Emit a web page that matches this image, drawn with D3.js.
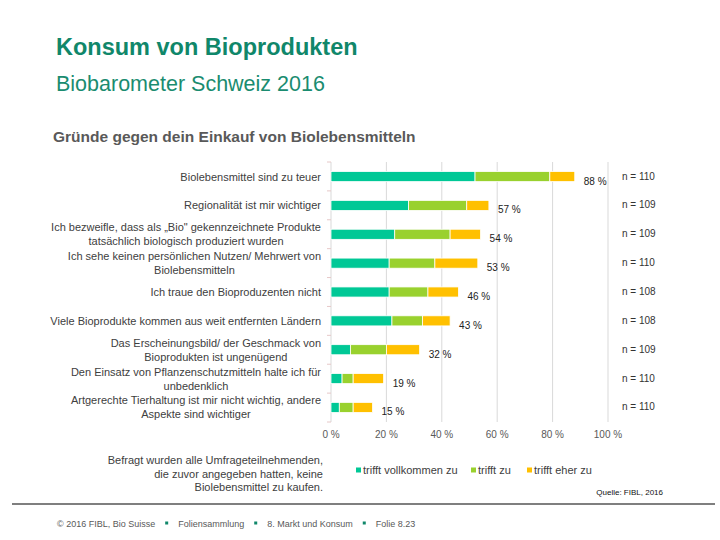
<!DOCTYPE html>
<html>
<head>
<meta charset="utf-8">
<script src="https://cdn.jsdelivr.net/npm/d3@7"></script>
<style>
  body { margin: 0; background: #fff; }
  text { font-family: "Liberation Sans", Arial, sans-serif; }
</style>
</head>
<body>
<div id="vis"></div>
<script>
// ==== DATA ====
const categories = [
  ["Biolebensmittel sind zu teuer"],
  ["Regionalität ist mir wichtiger"],
  ["Ich bezweifle, dass als „Bio\" gekennzeichnete Produkte", "tatsächlich biologisch produziert wurden"],
  ["Ich sehe keinen persönlichen Nutzen/ Mehrwert von", "Biolebensmitteln"],
  ["Ich traue den Bioproduzenten nicht"],
  ["Viele Bioprodukte kommen aus weit entfernten Ländern"],
  ["Das Erscheinungsbild/ der Geschmack von", "Bioprodukten ist ungenügend"],
  ["Den Einsatz von Pflanzenschutzmitteln halte ich für", "unbedenklich"],
  ["Artgerechte Tierhaltung ist mir nicht wichtig, andere", "Aspekte sind wichtiger"]
];
const vollkommen = [52, 28, 23, 21, 21, 22, 7, 4, 3];
const zu        = [27, 21, 20, 16.5, 14, 11, 13, 4, 5];
const eherZu    = [9, 8, 11, 15.5, 11, 10, 12, 11, 7];
const totals    = [88, 57, 54, 53, 46, 43, 32, 19, 15];
const nValues   = [110, 109, 109, 110, 108, 108, 109, 110, 110];
const seriesNames = ["trifft vollkommen zu", "trifft zu", "trifft eher zu"];
const colors = ["#00C896", "#99D12E", "#FFC000"];
const xTicks = [0, 20, 40, 60, 80, 100];

const width = 720, height = 540;
const svg = d3.select("#vis").append("svg")
  .attr("width", width).attr("height", height);

// ==== TITLES ====
svg.append("text").attr("x", 56).attr("y", 55)
  .style("font-size", "23.5px").style("font-weight", "bold").attr("fill", "#10876A")
  .text("Konsum von Bioprodukten");
svg.append("text").attr("x", 56).attr("y", 91)
  .style("font-size", "21.5px").attr("fill", "#1A8C70")
  .text("Biobarometer Schweiz 2016");
svg.append("text").attr("x", 53).attr("y", 142)
  .style("font-size", "15.5px").style("font-weight", "bold").attr("fill", "#595959")
  .text("Gründe gegen dein Einkauf von Biolebensmitteln");

// ==== SCALES ====
const x = d3.scaleLinear().domain([0, 100]).range([331, 608]);
const y = d3.scaleBand().domain(d3.range(categories.length)).range([162, 422]).paddingInner(0.65).paddingOuter(0.33);

// gridlines
svg.append("g").selectAll("line").data(xTicks.slice(1)).enter().append("line")
  .attr("x1", d => x(d)).attr("x2", d => x(d))
  .attr("y1", 162).attr("y2", 422)
  .attr("stroke", "#D9D9D9").attr("stroke-width", 1);

// x axis labels
svg.append("g").selectAll("text").data(xTicks).enter().append("text")
  .attr("x", d => x(d)).attr("y", 438)
  .attr("text-anchor", "middle").style("font-size", "10px").attr("fill", "#595959")
  .text(d => d + " %");

// y axis line + ticks
svg.append("line").attr("x1", 331).attr("x2", 331).attr("y1", 162).attr("y2", 422)
  .attr("stroke", "#D9D9D9");
const bandStep = (422 - 162) / categories.length;
svg.append("g").selectAll("line").data(d3.range(categories.length + 1)).enter().append("line")
  .attr("x1", 327).attr("x2", 331)
  .attr("y1", d => 162 + d * bandStep).attr("y2", d => 162 + d * bandStep)
  .attr("stroke", "#E6C8C8");

// ==== BARS ====
const rows = categories.map((c, i) => [vollkommen[i], zu[i], eherZu[i]]);
const stackData = rows.map((r, i) => {
  let acc = 0;
  return r.map((v, k) => { const s = { i, k, x0: acc, x1: acc + v }; acc += v; return s; });
}).flat();

svg.append("g").selectAll("rect").data(stackData).enter().append("rect")
  .attr("x", d => x(d.x0)).attr("width", d => x(d.x1) - x(d.x0))
  .attr("y", d => y(d.i)).attr("height", y.bandwidth())
  .attr("fill", d => colors[d.k])
  .attr("stroke", "#fff").attr("stroke-width", 0.8);

// total labels
svg.append("g").selectAll("text").data(totals).enter().append("text")
  .attr("x", (d, i) => x(d3.sum(rows[i])) + 9)
  .attr("y", (d, i) => y(i) + y.bandwidth() / 2 + 8)
  .style("font-size", "10px").attr("fill", "#222")
  .text(d => d + " %");

// n labels
svg.append("g").selectAll("text").data(nValues).enter().append("text")
  .attr("x", 622).attr("y", (d, i) => y(i) + y.bandwidth() / 2 + 3)
  .style("font-size", "10px").attr("fill", "#333")
  .text(d => "n = " + d);

// category labels (block right-aligned, lines centred)
categories.forEach((lines, i) => {
  const cy = y(i) + y.bandwidth() / 2;
  const g = svg.append("g");
  const lh = 14;
  const texts = lines.map((l, j) => g.append("text")
    .attr("y", cy + (j - (lines.length - 1) / 2) * lh + 4)
    .attr("text-anchor", "middle")
    .style("font-size", "11px").attr("fill", "#404040")
    .text(l));
  const maxW = d3.max(texts, t => t.node().getComputedTextLength());
  texts.forEach(t => t.attr("x", 321 - maxW / 2));
});

// ==== NOTE ====
const note = ["Befragt wurden alle Umfrageteilnehmenden,", "die zuvor angegeben hatten, keine", "Biolebensmittel zu kaufen."];
svg.append("g").selectAll("text").data(note).enter().append("text")
  .attr("x", 323).attr("y", (d, i) => 464 + i * 13.5)
  .attr("text-anchor", "end").style("font-size", "11px").attr("fill", "#404040")
  .text(d => d);

// ==== LEGEND ====
const legendX = [356, 471, 527];
const legend = svg.append("g").selectAll("g").data(seriesNames).enter().append("g")
  .attr("transform", (d, i) => `translate(${legendX[i]},474)`);
legend.append("rect").attr("x", 0).attr("y", -6.5).attr("width", 5).attr("height", 5)
  .attr("fill", (d, i) => colors[i]);
legend.append("text").attr("x", 7).attr("y", 0)
  .style("font-size", "11px").attr("fill", "#404040").text(d => d);

svg.append("text").attr("x", 663).attr("y", 495).attr("text-anchor", "end")
  .style("font-size", "8px").attr("fill", "#111").text("Quelle: FIBL, 2016");

// ==== FOOTER ====
svg.append("line").attr("x1", 12).attr("x2", 715).attr("y1", 504).attr("y2", 504)
  .attr("stroke", "#555").attr("stroke-width", 1.3);
const parts = ["© 2016 FIBL, Bio Suisse", "Foliensammlung", "8. Markt und Konsum", "Folie 8.23"];
let fx = 57;
parts.forEach((p, i) => {
  if (i > 0) {
    svg.append("rect").attr("x", fx + 10).attr("y", 521.5).attr("width", 3).attr("height", 3)
      .attr("fill", "#10876A");
    fx += 23;
  }
  const t = svg.append("text").attr("x", fx).attr("y", 527)
    .style("font-size", "9px").attr("fill", "#595959").text(p);
  fx += t.node().getComputedTextLength();
});
</script>
</body>
</html>
